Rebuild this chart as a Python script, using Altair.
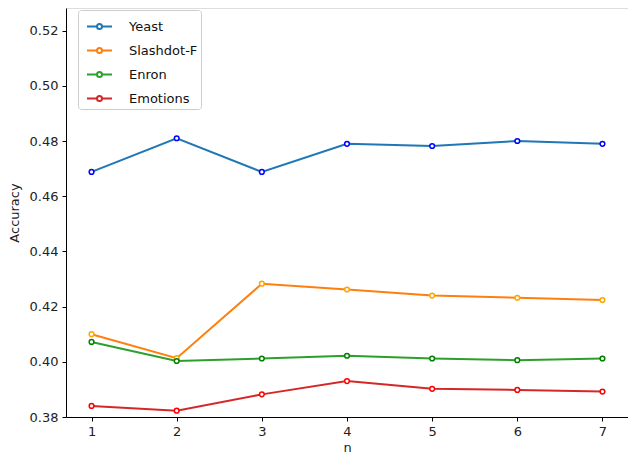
import altair as alt
import pandas as pd

n_values = [1, 2, 3, 4, 5, 6, 7]
yeast = [0.4688, 0.4810, 0.4688, 0.4790, 0.4782, 0.4800, 0.4790]
slashdot = [0.4100, 0.4013, 0.4283, 0.4262, 0.4240, 0.4232, 0.4224]
enron = [0.4072, 0.4003, 0.4012, 0.4022, 0.4012, 0.4006, 0.4012]
emotions = [0.3840, 0.3823, 0.3882, 0.3930, 0.3902, 0.3898, 0.3892]

series_names = ["Yeast", "Slashdot-F", "Enron", "Emotions"]
line_colors = ["#1f77b4", "#ff7f0e", "#2ca02c", "#d62728"]
marker_colors = ["#0000ff", "#ffa500", "#008000", "#ff0000"]

rows = []
for name, vals in zip(series_names, [yeast, slashdot, enron, emotions]):
    for n, v in zip(n_values, vals):
        rows.append({"n": n, "Accuracy": v, "series": name})
df = pd.DataFrame(rows)

sym_path = "M-1,0H-0.2M0.2,0H1M-0.2,0A0.2,0.2 0 1,1 0.2,0A0.2,0.2 0 1,1 -0.2,0"

x = alt.X("n:Q", title="n",
          scale=alt.Scale(domain=[0.7, 7.3], nice=False, zero=False),
          axis=alt.Axis(values=n_values, format="d", grid=False, tickSize=4,
                        labelFontSize=13, titleFontSize=13, labelPadding=4,
                        titlePadding=3, labelColor="#222", titleColor="#222",
                        titleFontWeight="normal",
                        domainColor="black", tickColor="black", labelFlush=False))
y = alt.Y("Accuracy:Q", title="Accuracy",
          scale=alt.Scale(domain=[0.38, 0.5282], nice=False, zero=False),
          axis=alt.Axis(values=[0.38, 0.40, 0.42, 0.44, 0.46, 0.48, 0.50, 0.52],
                        format=".2f", grid=False, tickSize=4, labelFontSize=13,
                        titleFontSize=13, labelPadding=4, titlePadding=8,
                        labelColor="#222", titleColor="#222",
                        titleFontWeight="normal",
                        domainColor="black", tickColor="black", labelFlush=False))

color = alt.Color("series:N", sort=series_names,
                  scale=alt.Scale(domain=series_names, range=line_colors),
                  legend=alt.Legend(title=None, orient="none", legendX=12, legendY=2,
                                    symbolType=sym_path, symbolSize=625,
                                    symbolStrokeWidth=2, symbolFillColor="white",
                                    labelFontSize=13, labelColor="#111",
                                    labelOffset=16, rowPadding=3, padding=3,
                                    symbolOffset=5,
                                    strokeColor="#cccccc", fillColor="white",
                                    cornerRadius=3))

lines = alt.Chart(df).mark_line(strokeWidth=2).encode(
    x=x, y=y, color=color, detail="series:N")

points = alt.Chart(df).mark_point(filled=False, shape="circle", size=22,
                                  strokeWidth=1.5, fill="white", fillOpacity=1).encode(
    x=x, y=y,
    stroke=alt.Stroke("series:N", scale=alt.Scale(domain=series_names, range=marker_colors),
                      legend=None))

chart = (lines + points).properties(
    width=562, height=409,
    autosize=alt.AutoSizeParams(type="none"),
    padding={"left": 58, "top": 0, "right": 0, "bottom": 39},
).configure_view(stroke="black", strokeWidth=1).configure(font="DejaVu Sans")

chart.save("out.html", embed_options={"renderer": "svg", "actions": False})
